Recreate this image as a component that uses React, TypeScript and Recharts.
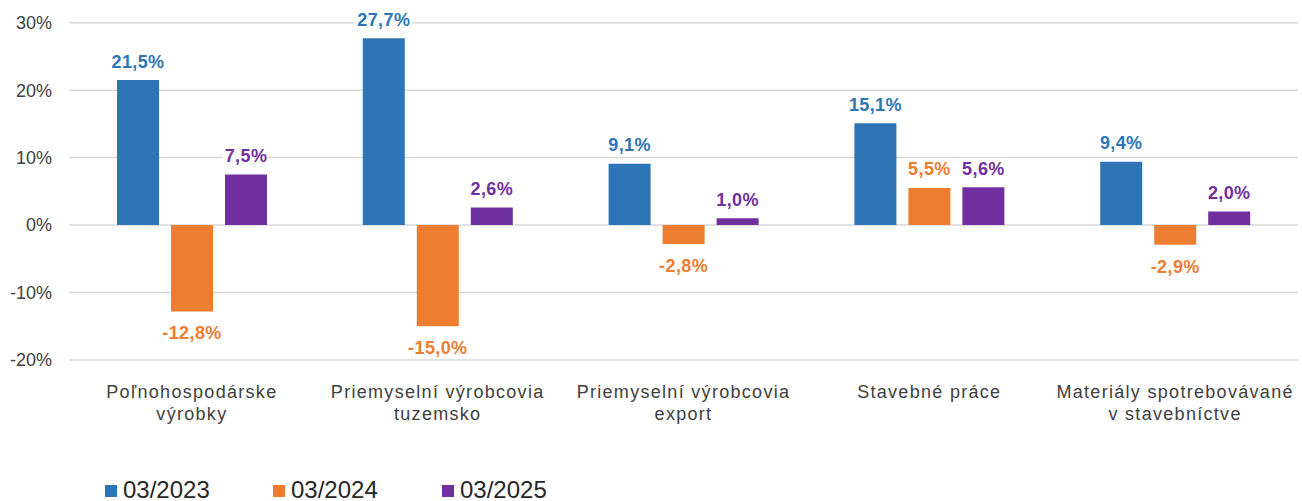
import React from 'react';
import { BarChart, Bar, XAxis, YAxis, CartesianGrid, LabelList, Legend } from 'recharts';

const categories = [
  'Poľnohospodárske\nvýrobky',
  'Priemyselní výrobcovia\ntuzemsko',
  'Priemyselní výrobcovia\nexport',
  'Stavebné práce',
  'Materiály spotrebovávané\nv stavebníctve',
];
const seriesNames = ['03/2023', '03/2024', '03/2025'];
const values2023 = [21.5, 27.7, 9.1, 15.1, 9.4];
const values2024 = [-12.8, -15.0, -2.8, 5.5, -2.9];
const values2025 = [7.5, 2.6, 1.0, 5.6, 2.0];
const yTicks = [-20, -10, 0, 10, 20, 30];
const colors = ['#2E75B6', '#ED7D31', '#7030A0'];

const data = categories.map((name, i) => ({
  name,
  s2023: values2023[i],
  s2024: values2024[i],
  s2025: values2025[i],
}));
const keys = ['s2023', 's2024', 's2025'];

const FONT = '"Liberation Sans", Arial, Helvetica, sans-serif';

const fmt = (v: number) => v.toFixed(1).replace('.', ',') + '%';

const makeLabel = (color: string) => (props: any) => {
  const { x, y, width, height, value } = props;
  const v = Number(value);
  const top = Math.min(y, y + height);
  const bottom = Math.max(y, y + height);
  const cx = x + width / 2;
  const text = fmt(v);
  const ty = v >= 0 ? top - 12.5 : bottom + 28;
  const w = text.length * 10.5 + 4;
  return (
    <g>
      <rect x={cx - w / 2} y={ty - 17} width={w} height={21} fill="#ffffff" />
      <text x={cx} y={ty} textAnchor="middle" fill={color} fontSize={18} fontWeight="bold" fontFamily={FONT} letterSpacing={0.4}>
        {text}
      </text>
    </g>
  );
};

const CategoryTick = (props: any) => {
  const { x, y, payload } = props;
  const lines = String(payload.value).split('\n');
  return (
    <g>
      {lines.map((ln, i) => (
        <text key={i} x={x} y={y + 38 + i * 21.5} textAnchor="middle" fill="#404040" fontSize={18} fontFamily={FONT} letterSpacing={1.3}>
          {ln}
        </text>
      ))}
    </g>
  );
};

const legendX = [105, 273, 442];

const LegendContent = () => (
  <div style={{ position: 'relative', width: 1302, height: 41 }}>
    {seriesNames.map((n, i) => (
      <React.Fragment key={n}>
        <div style={{ position: 'absolute', left: legendX[i], top: 25, width: 12, height: 12, background: colors[i] }} />
        <div style={{ position: 'absolute', left: legendX[i] + 18, top: 17.5, fontSize: 24, lineHeight: '24px', fontFamily: FONT, color: '#262626', whiteSpace: 'nowrap' }}>
          {n}
        </div>
      </React.Fragment>
    ))}
  </div>
);

export default function App() {
  return (
    <div style={{ position: 'absolute', left: 0, top: 0, width: 1302, height: 501, background: '#fff' }}>
      <BarChart
        width={1302}
        height={501}
        data={data}
        margin={{ top: 22.7, right: 4, left: 0, bottom: 0 }}
        barGap={12}
        barSize={42}
      >
        <CartesianGrid horizontal vertical={false} stroke="#d9d9d9" strokeWidth={1.5} />
        <XAxis
          dataKey="name"
          interval={0}
          axisLine={false}
          tickLine={false}
          tickSize={0}
          tickMargin={0}
          height={100}
          tick={<CategoryTick />}
        />
        <YAxis
          width={69}
          domain={[-20, 30]}
          ticks={yTicks}
          tickFormatter={(v: number) => v + '%'}
          axisLine={false}
          tickLine={false}
          tickSize={0}
          tickMargin={17}
          tick={{ fill: '#404040', fontSize: 18, fontFamily: FONT }}
          interval={0}
        />
        <Legend
          verticalAlign="bottom"
          align="left"
          height={41}
          wrapperStyle={{ left: 0, bottom: 0, width: 1302, height: 41 }}
          content={<LegendContent />}
        />
        {keys.map((k, i) => (
          <Bar key={k} dataKey={k} name={seriesNames[i]} fill={colors[i]} isAnimationActive={false}>
            <LabelList dataKey={k} content={makeLabel(colors[i])} />
          </Bar>
        ))}
      </BarChart>
    </div>
  );
}
